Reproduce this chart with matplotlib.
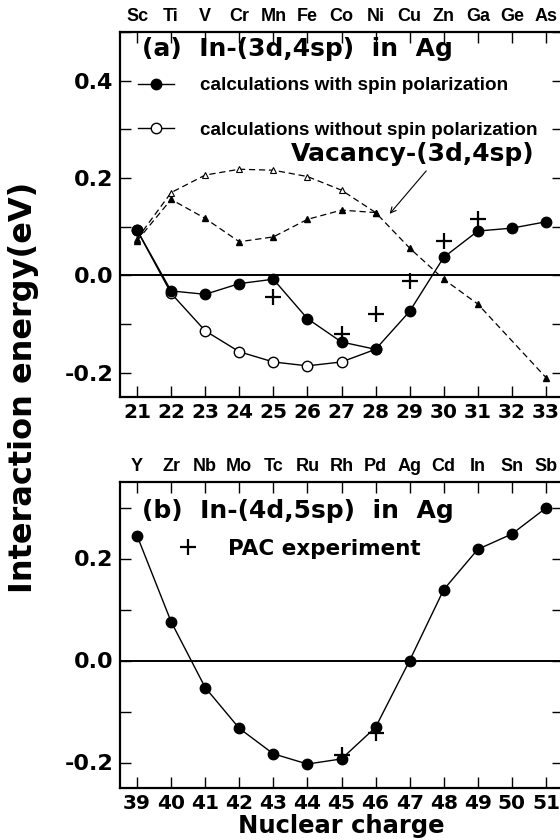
import matplotlib
matplotlib.use('Agg')
import matplotlib.pyplot as plt
from matplotlib.ticker import MultipleLocator, FixedLocator, FixedFormatter
from matplotlib.lines import Line2D

plt.rcParams['font.family'] = ['DejaVu Sans']
plt.rcParams['font.weight'] = 'bold'

# ---------------- data: panel (a) ----------------
z_a = [21, 22, 23, 24, 25, 26, 27, 28, 29, 30, 31, 32, 33]
elem_a = ['Sc', 'Ti', 'V', 'Cr', 'Mn', 'Fe', 'Co', 'Ni', 'Cu', 'Zn', 'Ga', 'Ge', 'As']
spin_a = [0.093, -0.032, -0.039, -0.017, -0.008, -0.089, -0.137, -0.152,
          -0.074, 0.037, 0.091, 0.097, 0.110]
nospin_z_a = [21, 22, 23, 24, 25, 26, 27, 28]
nospin_a = [0.093, -0.037, -0.114, -0.157, -0.178, -0.186, -0.178, -0.152]
pac_z_a = [25, 27, 28, 29, 30, 31]
pac_a = [-0.045, -0.121, -0.080, -0.011, 0.071, 0.115]
vac_z = [21, 22, 23, 24, 25, 26, 27, 28, 29, 30, 31, 33]
vac_spin = [0.071, 0.156, 0.117, 0.069, 0.079, 0.115, 0.134, 0.129,
            0.056, -0.008, -0.059, -0.210]
vac_nospin_z = [21, 22, 23, 24, 25, 26, 27, 28]
vac_nospin = [0.075, 0.170, 0.206, 0.218, 0.216, 0.203, 0.175, 0.129]

# ---------------- data: panel (b) ----------------
z_b = [39, 40, 41, 42, 43, 44, 45, 46, 47, 48, 49, 50, 51]
elem_b = ['Y', 'Zr', 'Nb', 'Mo', 'Tc', 'Ru', 'Rh', 'Pd', 'Ag', 'Cd', 'In', 'Sn', 'Sb']
spin_b = [0.245, 0.076, -0.053, -0.133, -0.183, -0.203, -0.193, -0.131,
          0.0, 0.139, 0.218, 0.248, 0.299]
pac_z_b = [45, 46]
pac_b = [-0.185, -0.143]

NARROW = ['Liberation Sans', 'DejaVu Sans']

fig = plt.figure(figsize=(5.6, 8.4), dpi=100)
ax_a = fig.add_axes([120 / 560, 1 - 397 / 840, 443 / 560, 365 / 840])
ax_b = fig.add_axes([120 / 560, 1 - 788 / 840, 443 / 560, 306 / 840])


def style_axes(ax, zs, elems, ylim, ymajor):
    ax.set_xlim(zs[0] - 0.5, zs[-1] + 0.5)
    ax.set_ylim(*ylim)
    ax.axhline(0, color='black', lw=1.4, zorder=1)
    ax.xaxis.set_major_locator(FixedLocator(zs))
    ax.yaxis.set_major_locator(FixedLocator(ymajor))
    ax.yaxis.set_major_formatter(FixedFormatter(['%.1f' % v for v in ymajor]))
    ax.yaxis.set_minor_locator(MultipleLocator(0.1))
    ax.tick_params(axis='both', which='both', direction='in', top=True,
                   right=True, width=1.0, length=8)
    ax.tick_params(axis='x', labelsize=14.5, pad=4)
    ax.tick_params(axis='y', labelsize=16, pad=5)
    for lab in ax.get_xticklabels() + ax.get_yticklabels():
        lab.set_fontweight('bold')
    for s in ax.spines.values():
        s.set_linewidth(1.6)
    sec = ax.secondary_xaxis('top')
    sec.set_xticks(zs, labels=elems)
    sec.tick_params(length=0, pad=5, labelsize=13)
    for lab in sec.get_xticklabels():
        lab.set_fontweight('bold')
        lab.set_family(NARROW)
    sec.spines['top'].set_visible(False)


# ---------- panel (a) ----------
ax = ax_a
style_axes(ax, z_a, elem_a, (-0.25, 0.5), [-0.2, 0.0, 0.2, 0.4])
ax.plot(vac_nospin_z, vac_nospin, ls=(0, (5, 3)), color='black', lw=0.9,
        marker='^', ms=4.5, mfc='white', mec='black', mew=0.8, zorder=2)
ax.plot(vac_z, vac_spin, ls=(0, (5, 3)), color='black', lw=0.9,
        marker='^', ms=4.5, mfc='black', mec='black', zorder=3)
ax.plot(nospin_z_a, nospin_a, '-', color='black', lw=1.0, marker='o', ms=7.5,
        mfc='white', mec='black', mew=1.0, zorder=4)
ax.plot(z_a, spin_a, '-', color='black', lw=1.0, marker='o', ms=7.5,
        mfc='black', mec='black', zorder=5)
ax.plot(pac_z_a, pac_a, ls='none', marker='+', ms=12, mew=1.6, color='black', zorder=6)

ax.text(0.05, 0.953, '(a)  In-(3d,4sp)  in  Ag', transform=ax.transAxes,
        fontsize=18, fontweight='bold', ha='left', va='center')
ax.text(25.5, 0.249, 'Vacancy-(3d,4sp)', fontsize=18, fontweight='bold',
        ha='left', va='center')
ax.annotate('', xy=(28.36, 0.122), xytext=(29.54, 0.219),
            arrowprops=dict(arrowstyle='->', lw=0.8, color='black'))
h1 = Line2D([], [], color='black', lw=1.0, marker='o', ms=7.5, mfc='black', mec='black')
h2 = Line2D([], [], color='black', lw=1.0, marker='o', ms=7.5, mfc='white', mec='black')
leg = ax.legend([h1, h2], ['calculations with spin polarization',
                           'calculations without spin polarization'],
                loc='upper left', bbox_to_anchor=(0.041, 0.876), frameon=False,
                handlelength=1.9, handletextpad=1.35, labelspacing=1.45,
                borderaxespad=0.0, borderpad=0.0,
                prop=dict(family=NARROW, weight='bold', size=13.6))

# ---------- panel (b) ----------
ax = ax_b
style_axes(ax, z_b, elem_b, (-0.25, 0.35), [-0.2, 0.0, 0.2])
ax.plot(z_b, spin_b, '-', color='black', lw=1.0, marker='o', ms=7.5,
        mfc='black', mec='black', zorder=5)
ax.plot(pac_z_b, pac_b, ls='none', marker='+', ms=12, mew=1.6, color='black', zorder=6)
ax.text(0.05, 0.905, '(b)  In-(4d,5sp)  in  Ag', transform=ax.transAxes,
        fontsize=18, fontweight='bold', ha='left', va='center')
hp = Line2D([], [], ls='none', marker='+', ms=12, mew=1.6, color='black')
ax.legend([hp], ['PAC experiment'], loc='upper left', bbox_to_anchor=(0.117, 0.814),
          frameon=False, handlelength=1.5, handletextpad=1.1, borderaxespad=0.0,
          borderpad=0.0, prop=dict(weight='bold', size=15.5))
ax.set_xlabel('Nuclear charge', fontsize=17.5, fontweight='bold', labelpad=1)

fig.text(24 / 560, 1 - 387 / 840, 'Interaction energy(eV)', rotation=90,
         ha='center', va='center', fontsize=23, fontweight='bold')

fig.savefig('out.png', dpi=100)
